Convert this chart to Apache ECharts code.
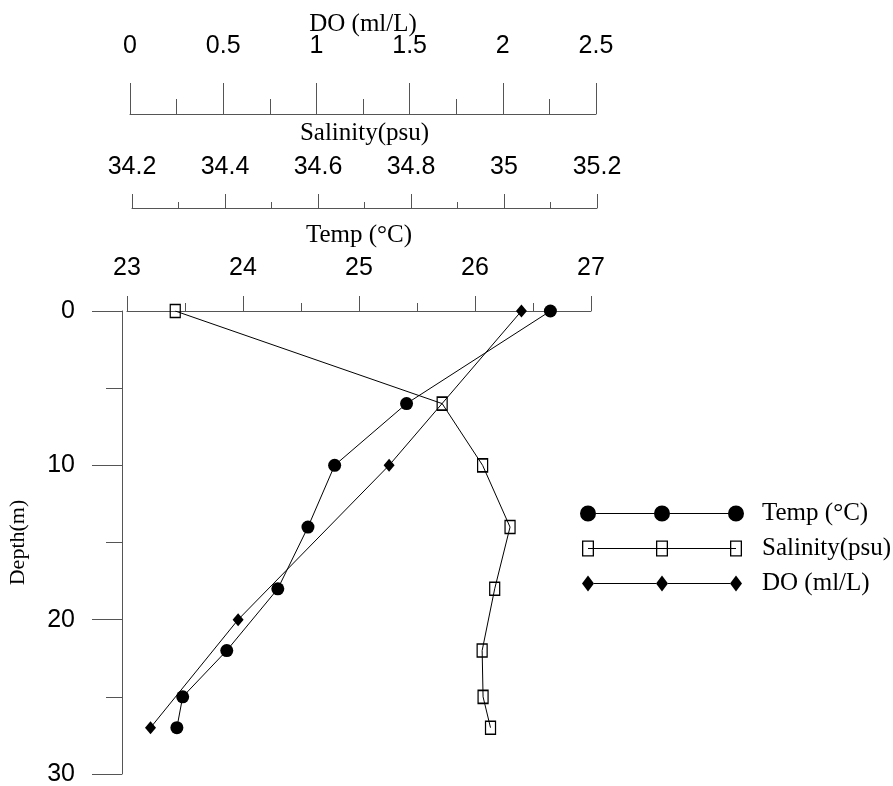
<!DOCTYPE html>
<html>
<head>
<meta charset="utf-8">
<script src="https://cdn.jsdelivr.net/npm/echarts@6/dist/echarts.min.js"></script>
<style>
html, body { margin: 0; padding: 0; background: #fff; }
#profile { width: 893px; height: 786px; }
</style>
</head>
<body>
<div id="profile"></div>
<script>
// depth profiles (m)
var tempDepth = [0, 6, 10, 14, 18, 22, 25, 27];
var tempValues = [26.65, 25.41, 24.79, 24.56, 24.30, 23.86, 23.48, 23.43];

var salDepth = [0, 6, 10, 14, 18, 22, 25, 27];
var salValues = [34.293, 34.867, 34.954, 35.013, 34.98, 34.953, 34.955, 34.971];

var doDepth = [0, 10, 20, 27];
var doValues = [2.10, 1.39, 0.58, 0.11];

var seriesNames = ['Temp (°C)', 'Salinity(psu)', 'DO (ml/L)'];

var sansFont = 'Liberation Sans, Arial, sans-serif';
var serifFont = 'Liberation Serif, Times New Roman, serif';
var axisGrey = '#555';

var pairUp = function (xs, ys) {
    var res = [];
    for (var i = 0; i < xs.length; i++) {
        res.push([xs[i], ys[i]]);
    }
    return res;
};

// legend icons: three markers joined by a line
var circleAt = function (cx) {
    return 'M' + (cx - 8) + ',8A8,8,0,1,0,' + (cx + 8) + ',8A8,8,0,1,0,' + (cx - 8) + ',8Z';
};
var barBetween = function (x1, x2) {
    return 'M' + x1 + ',7.5H' + x2 + 'V8.5H' + x1 + 'Z';
};
var squareAt = function (cx) {
    return 'M' + (cx - 6) + ',0H' + (cx + 6) + 'V16H' + (cx - 6) + 'Z' +
        'M' + (cx - 4.7) + ',1.3V14.7H' + (cx + 4.7) + 'V1.3Z';
};
var diamondAt = function (cx) {
    return 'M' + (cx - 6) + ',8L' + cx + ',0L' + (cx + 6) + ',8L' + cx + ',16Z';
};
var tempIcon = 'path://' + circleAt(8) + circleAt(82) + circleAt(156) + barBetween(16, 74) + barBetween(90, 148);
var salIcon = 'path://' + squareAt(8) + squareAt(82) + squareAt(156) + barBetween(8, 156);
var doIcon = 'path://' + diamondAt(8) + diamondAt(82) + diamondAt(156) + barBetween(14, 76) + barBetween(88, 150);

var topAxis = function (grid, min, max, interval, offset, name, tickLen, minorLen, labelMargin, nameGap) {
    return {
        type: 'value',
        gridIndex: grid,
        position: 'top',
        offset: offset,
        min: min,
        max: max,
        interval: interval,
        name: name,
        nameLocation: 'middle',
        nameGap: nameGap,
        nameMoveOverlap: false,
        nameTextStyle: { fontFamily: serifFont, fontSize: 25, color: '#000', verticalAlign: 'middle' },
        axisLine: { show: true, onZero: false, lineStyle: { color: axisGrey, width: 1 } },
        axisTick: { show: true, inside: false, length: tickLen, lineStyle: { color: axisGrey, width: 1 } },
        minorTick: { show: true, splitNumber: 2, length: minorLen, lineStyle: { color: axisGrey, width: 1 } },
        axisLabel: {
            margin: labelMargin,
            fontFamily: sansFont,
            fontSize: 25,
            color: '#000',
            verticalAlign: 'middle',
            showMinLabel: true,
            showMaxLabel: true
        },
        splitLine: { show: false },
        minorSplitLine: { show: false }
    };
};

var depthAxis = function (grid, visible) {
    return {
        type: 'value',
        gridIndex: grid,
        show: visible,
        position: 'left',
        offset: 5,
        inverse: true,
        min: 0,
        max: 30,
        interval: 10,
        name: visible ? 'Depth(m)' : '',
        nameLocation: 'middle',
        nameGap: 93,
        nameMoveOverlap: false,
        nameTextStyle: { fontFamily: serifFont, fontSize: 22, color: '#000' },
        axisLine: { show: true, onZero: false, lineStyle: { color: axisGrey, width: 1 } },
        axisTick: { show: true, length: 30, lineStyle: { color: axisGrey, width: 1 } },
        minorTick: { show: true, splitNumber: 2, length: 16, lineStyle: { color: axisGrey, width: 1 } },
        axisLabel: {
            margin: 47,
            fontFamily: sansFont,
            fontSize: 25,
            color: '#000',
            padding: [3, 0, 0, 0],
            showMinLabel: true,
            showMaxLabel: true
        },
        splitLine: { show: false },
        minorSplitLine: { show: false }
    };
};

var chart = echarts.init(document.getElementById('profile'), null, { renderer: 'canvas' });
chart.setOption({
    backgroundColor: '#fff',
    animation: false,
    grid: [
        { left: 127, right: 302, top: 311, bottom: 12, outerBoundsMode: 'none' },
        { left: 132, right: 296, top: 311, bottom: 12, outerBoundsMode: 'none' },
        { left: 130, right: 297, top: 311, bottom: 12, outerBoundsMode: 'none' }
    ],
    xAxis: [
        topAxis(0, 23, 27, 1, 0, 'Temp (°C)', 15, 8, 43, 76),
        topAxis(1, 34.2, 35.2, 0.2, 103, 'Salinity(psu)', 14, 6, 41, 75),
        topAxis(2, 0, 2.5, 0.5, 197, 'DO (ml/L)', 31, 15, 68, 90)
    ],
    yAxis: [depthAxis(0, true), depthAxis(1, false), depthAxis(2, false)],
    legend: {
        orient: 'vertical',
        left: 575,
        top: 496,
        itemWidth: 164,
        itemHeight: 16,
        itemGap: 10,
        symbolKeepAspect: true,
        selectedMode: false,
        textStyle: { fontFamily: serifFont, fontSize: 25, color: '#000', padding: [0, 0, 0, 13] },
        data: [
            { name: seriesNames[0], icon: tempIcon, itemStyle: { color: '#000', borderWidth: 0 } },
            { name: seriesNames[1], icon: salIcon, itemStyle: { color: '#000', borderWidth: 0 } },
            { name: seriesNames[2], icon: doIcon, itemStyle: { color: '#000', borderWidth: 0 } }
        ]
    },
    series: [{
        name: seriesNames[0],
        type: 'line',
        xAxisIndex: 0,
        yAxisIndex: 0,
        data: pairUp(tempValues, tempDepth),
        symbol: 'circle',
        symbolSize: 13,
        itemStyle: { color: '#000' },
        lineStyle: { color: '#000', width: 1 },
        silent: true
    }, {
        name: seriesNames[1],
        type: 'line',
        xAxisIndex: 1,
        yAxisIndex: 1,
        data: pairUp(salValues, salDepth),
        symbol: 'rect',
        symbolSize: [10, 13],
        itemStyle: { color: 'rgba(0,0,0,0)', borderColor: '#000', borderWidth: 1.4 },
        lineStyle: { color: '#000', width: 1 },
        silent: true
    }, {
        name: seriesNames[2],
        type: 'line',
        xAxisIndex: 2,
        yAxisIndex: 2,
        data: pairUp(doValues, doDepth),
        symbol: 'diamond',
        symbolSize: [11, 13],
        itemStyle: { color: '#000' },
        lineStyle: { color: '#000', width: 1 },
        silent: true
    }]
});
window.onresize = chart.resize;
</script>
</body>
</html>
